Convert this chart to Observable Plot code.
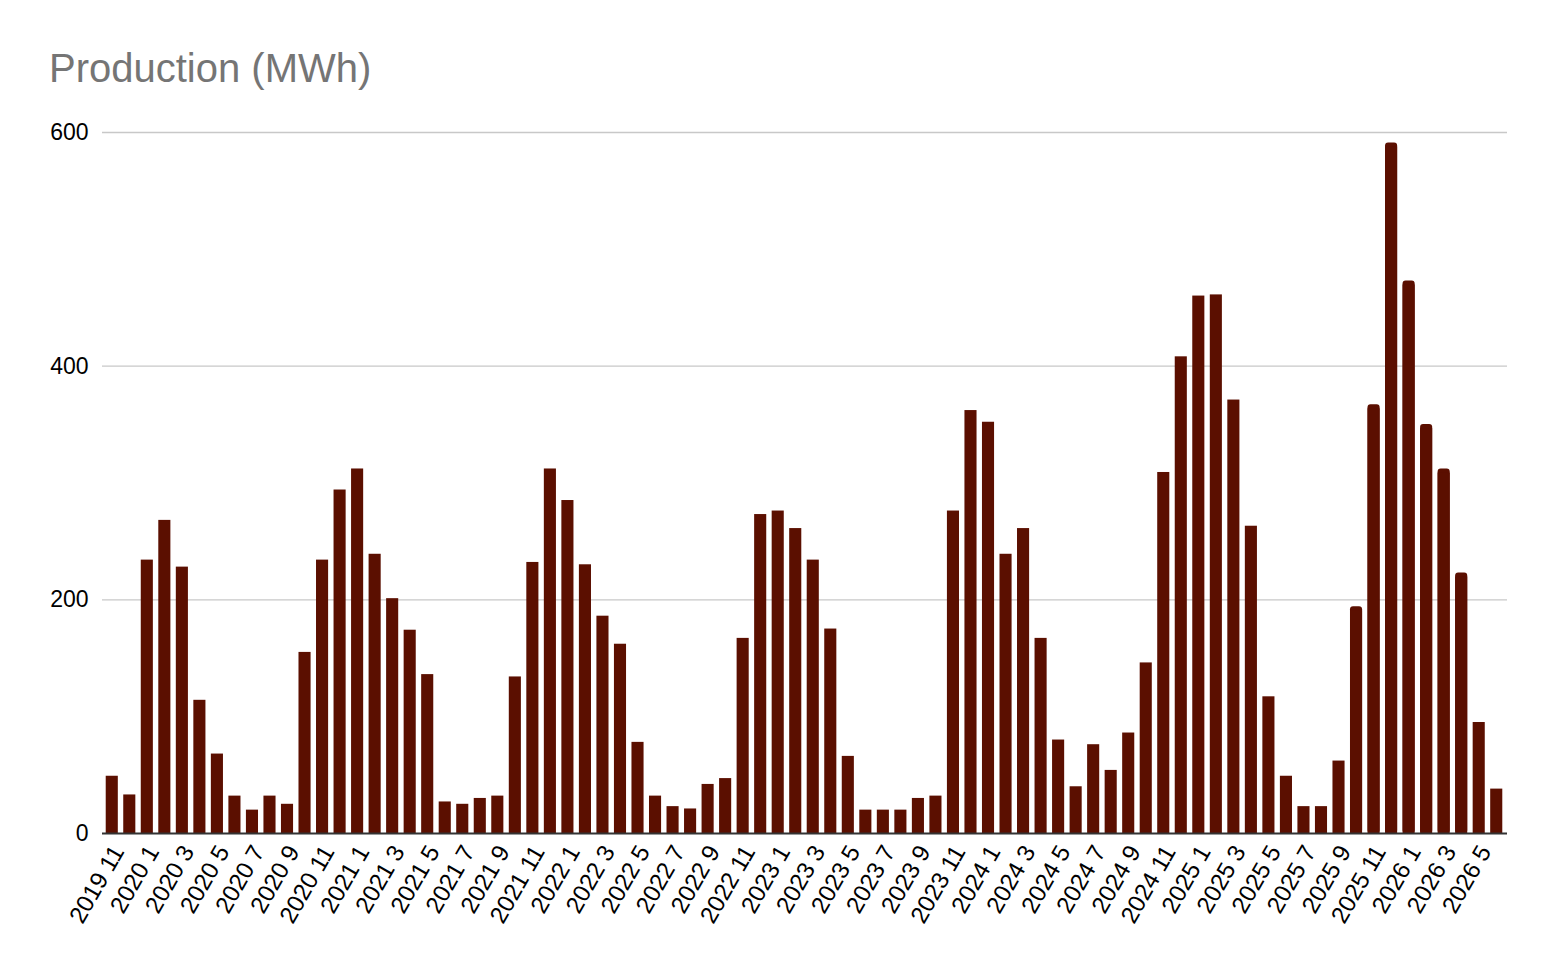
<!DOCTYPE html>
<html>
<head>
<meta charset="utf-8">
<script src="https://cdn.jsdelivr.net/npm/d3@7"></script>
<script src="https://cdn.jsdelivr.net/npm/@observablehq/plot@0.6"></script>
<style>
  html, body { margin: 0; padding: 0; background: #fff; }
  #title {
    height: 100px; box-sizing: border-box; padding-top: 49px; padding-left: 49px;
    font-family: "Liberation Sans", Arial, sans-serif; font-size: 40px; line-height: 39px;
    color: #757575; white-space: nowrap;
  }
  #chart svg { display: block; }
</style>
</head>
<body>
<div id="title">Production (MWh)</div>
<div id="chart"></div>
<script>
const months = [
  "2019 11","2019 12",
  "2020 1","2020 2","2020 3","2020 4","2020 5","2020 6","2020 7","2020 8","2020 9","2020 10","2020 11","2020 12",
  "2021 1","2021 2","2021 3","2021 4","2021 5","2021 6","2021 7","2021 8","2021 9","2021 10","2021 11","2021 12",
  "2022 1","2022 2","2022 3","2022 4","2022 5","2022 6","2022 7","2022 8","2022 9","2022 10","2022 11","2022 12",
  "2023 1","2023 2","2023 3","2023 4","2023 5","2023 6","2023 7","2023 8","2023 9","2023 10","2023 11","2023 12",
  "2024 1","2024 2","2024 3","2024 4","2024 5","2024 6","2024 7","2024 8","2024 9","2024 10","2024 11","2024 12",
  "2025 1","2025 2","2025 3","2025 4","2025 5","2025 6","2025 7","2025 8","2025 9","2025 10","2025 11","2025 12",
  "2026 1","2026 2","2026 3","2026 4","2026 5","2026 6"
];
const production = [
  49, 33,
  234, 268, 228, 114, 68, 32, 20, 32, 25, 155, 234, 294,
  312, 239, 201, 174, 136, 27, 25, 30, 32, 134, 232, 312,
  285, 230, 186, 162, 78, 32, 23, 21, 42, 47, 167, 273,
  276, 261, 234, 175, 66, 20, 20, 20, 30, 32, 276, 362,
  352, 239, 261, 167, 80, 40, 76, 54, 86, 146, 309, 408,
  460, 461, 371, 263, 117, 49, 23, 23, 62, 194, 367, 591,
  473, 350, 312, 223, 95, 38
];
const yTicks = [0, 200, 400, 600];
const xTickLabels = months.filter((d, i) => i % 2 === 0);

const data = months.map((m, i) => ({month: m, value: production[i], i}));
const isRounded = d => d.i >= 71 && d.i <= 77;
const roundedTop = data.filter(isRounded);
const flatTop = data.filter(d => !isRounded(d));

const font = "'Liberation Sans', Arial, sans-serif";
const barColor = "#5b0f00";

const chart = Plot.plot({
  width: 1556,
  height: 874,
  marginLeft: 103,
  marginRight: 51,
  marginTop: 32,
  marginBottom: 141,
  style: {fontFamily: font, fontSize: "23px", color: "#000", background: "#fff"},
  x: {type: "band", domain: months, paddingInner: 0.31, paddingOuter: 0.155, axis: null},
  y: {domain: [0, 600], axis: null},
  marks: [
    Plot.ruleY(yTicks.filter(d => d > 0), {stroke: "#c8c8c8", strokeWidth: 1.4, insetLeft: -1, insetRight: -2}),
    Plot.barY(flatTop, {x: "month", y: "value", fill: barColor}),
    Plot.barY(roundedTop, {x: "month", y: "value", fill: barColor, rx: 3, ry: 3}),
    Plot.barY(roundedTop, {x: "month", y: "value", fill: barColor, insetTop: 4}),
    Plot.ruleY([0], {stroke: "#333", strokeWidth: 2, insetLeft: -1, insetRight: -2}),
    Plot.axisY({ticks: yTicks, tickSize: 0, tickPadding: 15, fontSize: 23, label: null, fill: "#000"}),
    Plot.axisX({ticks: xTickLabels, tickSize: 0, tickPadding: 14, tickRotate: -60, fontSize: 24, label: null, fill: "#000", dx: 6})
  ]
});
document.getElementById("chart").appendChild(chart);
</script>
</body>
</html>
